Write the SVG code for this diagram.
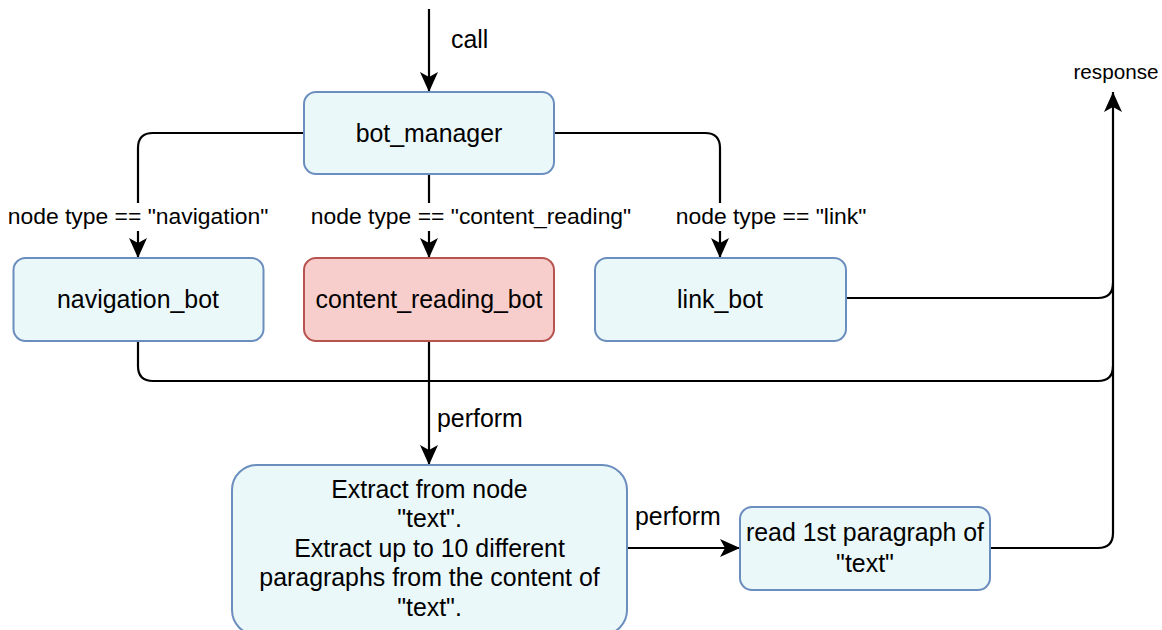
<svg xmlns="http://www.w3.org/2000/svg" width="1162" height="630" viewBox="0 0 1162 630">
<style>
.node{fill:#ebf8fa;stroke:#6c8ebf;stroke-width:2}
.red{fill:#f8cecc;stroke:#b85450;stroke-width:2}
.t{font-family:"Liberation Sans",Arial,sans-serif;font-size:24.9px;fill:#000;text-anchor:middle}
.lbl{font-family:"Liberation Sans",Arial,sans-serif;font-size:22.9px;fill:#000;text-anchor:middle}
.el{font-family:"Liberation Sans",Arial,sans-serif;font-size:24.9px;fill:#000}
.sm{font-family:"Liberation Sans",Arial,sans-serif;font-size:20.7px;fill:#000;text-anchor:middle}
.c{fill:none;stroke:#000;stroke-width:2.2}
</style>
<defs>
<marker id="ah" viewBox="0 0 20 18" refX="20" refY="9" markerWidth="20" markerHeight="18" markerUnits="userSpaceOnUse" orient="auto">
<path d="M0,0 L20,9 L0,18 L5,9 Z" fill="#000"/>
</marker>
</defs>
<rect width="1162" height="630" fill="#fff"/>
<g id="connectors">
<path class="c" d="M429,9 L429,92" marker-end="url(#ah)"/>
<path class="c" d="M304,133 L153,133 Q138,133 138,148 L138,258" marker-end="url(#ah)"/>
<path class="c" d="M429,174 L429,258" marker-end="url(#ah)"/>
<path class="c" d="M554,133 L705,133 Q720,133 720,148 L720,258" marker-end="url(#ah)"/>
<path class="c" d="M846,298 L1098,298 Q1113,298 1113,283"/>
<path class="c" d="M138,341 L138,366 Q138,381 153,381 L1098,381 Q1113,381 1113,366"/>
<path class="c" d="M990,548 L1098,548 Q1113,548 1113,533 L1113,92" marker-end="url(#ah)"/>
<path class="c" d="M429,341 L429,465" marker-end="url(#ah)"/>
<path class="c" d="M627,548 L740,548" marker-end="url(#ah)"/>
<rect x="5" y="203" width="266" height="28" fill="#fff"/>
<rect x="307" y="203" width="328" height="28" fill="#fff"/>
<rect x="673" y="203" width="196" height="28" fill="#fff"/>
<text class="lbl" x="138" y="224">node type == "navigation"</text>
<text class="lbl" x="471" y="224">node type == "content_reading"</text>
<text class="lbl" x="771" y="224">node type == "link"</text>
<text class="el" x="451" y="48">call</text>
<text class="el" x="437" y="427">perform</text>
<text class="el" x="635" y="525">perform</text>
<text class="sm" x="1116" y="79">response</text>
</g>
<g id="bot_manager">
<rect class="node" x="304" y="92" width="250" height="82" rx="12"/>
<text class="t" x="429" y="142">bot_manager</text>
</g>
<g id="navigation_bot">
<rect class="node" x="13.5" y="258" width="250" height="83" rx="12"/>
<text class="t" x="138" y="308">navigation_bot</text>
</g>
<g id="content_reading_bot">
<rect class="red" x="304" y="258" width="250" height="83" rx="12"/>
<text class="t" x="429" y="308">content_reading_bot</text>
</g>
<g id="link_bot">
<rect class="node" x="595" y="258" width="251" height="83" rx="12"/>
<text class="t" x="720" y="308">link_bot</text>
</g>
<g id="extract">
<rect class="node" x="232" y="465" width="395" height="170" rx="25"/>
<text class="t" x="429.5" y="498">Extract from node</text>
<text class="t" x="429.5" y="527">"text".</text>
<text class="t" x="429.5" y="557">Extract up to 10 different</text>
<text class="t" x="429.5" y="586">paragraphs from the content of</text>
<text class="t" x="429.5" y="616">"text".</text>
</g>
<g id="read_paragraph">
<rect class="node" x="740" y="507" width="250" height="83" rx="12"/>
<text class="t" x="865" y="541">read 1st paragraph of</text>
<text class="t" x="865" y="572">"text"</text>
</g>
</svg>
